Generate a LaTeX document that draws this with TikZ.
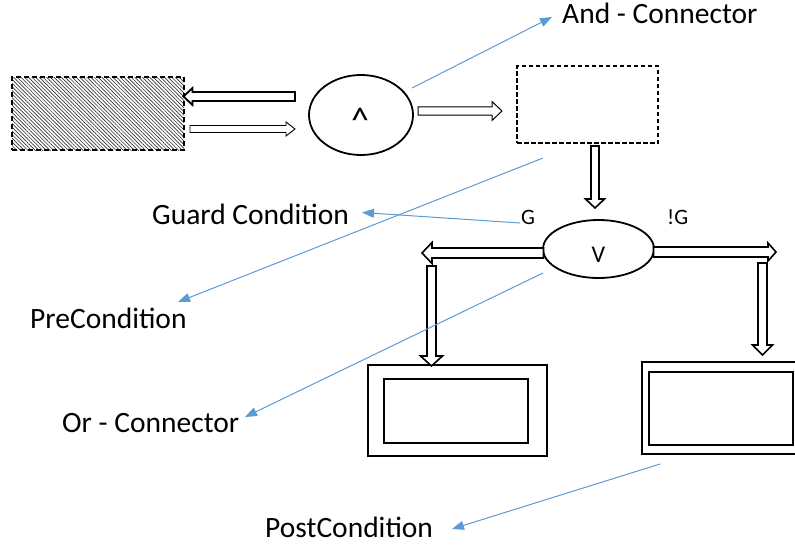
\documentclass[tikz,border=0pt]{standalone}
\usepackage{fontspec}
\setmainfont{Carlito}
\usetikzlibrary{calc,shapes.geometric,patterns.meta,arrows.meta}
\definecolor{callout}{HTML}{5B9BD5}

% Hollow block arrow from #2 to #3:
% #4 shaft half-width, #5 head half-width, #6 head length
\newcommand{\blockarrow}[6][]{%
  \coordinate (ba-neck) at ($(#3)!#6!(#2)$);
  \draw[blockarrow,#1]
    ($(#2)!#4!90:(#3)$) --
    ($(ba-neck)!#4!90:(#3)$) --
    ($(ba-neck)!#5!90:(#3)$) --
    (#3) --
    ($(ba-neck)!#5!-90:(#3)$) --
    ($(ba-neck)!#4!-90:(#3)$) --
    ($(#2)!#4!-90:(#3)$) -- cycle;
}

\begin{document}
\begin{tikzpicture}[x=1pt,y=-1pt,
  blockarrow/.style={draw=black, fill=white, line join=miter, line width=1.6pt},
  thinblock/.style={line width=0.9pt},
  callline/.style={draw=callout, line width=1pt, -{Triangle[length=12pt,width=9pt]}},
  labeltext/.style={font=\fontsize{29.5}{34}\selectfont, inner sep=0pt, anchor=base west},
  smalltext/.style={font=\fontsize{22}{26}\selectfont, inner sep=0pt, anchor=base west},
  connector/.style={ellipse, draw, line width=1.8pt, inner sep=0pt},
  framebox/.style={draw, line width=1.8pt, inner sep=0pt},
]
\useasboundingbox (0,0) rectangle (795,549);

% hatched source state
\node[draw, dashed, line width=1.6pt, dash pattern=on 5pt off 3pt,
      pattern={Lines[angle=-45,distance=2.6pt,line width=0.65pt]}, pattern color=black!80,
      minimum width=172pt, minimum height=73pt, inner sep=0pt] (src) at (98,113.5) {};

% and-connector
\node[connector, minimum width=104pt, minimum height=80pt] (andc) at (361,115) {};
\node[font=\fontsize{36}{40}\selectfont, inner sep=0pt, anchor=base] (andsym) at (360,132) {\textasciicircum};

% precondition (dashed) box
\node[draw, line width=1.7pt, dash pattern=on 4.5pt off 2.5pt,
      minimum width=141pt, minimum height=77pt, inner sep=0pt] (prebox) at (587.5,104.5) {};

% or-connector
\node[connector, minimum width=111pt, minimum height=58pt] (orc) at (598.5,249) {};
\node[font=\fontsize{24}{28}\selectfont, inner sep=0pt, anchor=base] (orsym) at (598.5,262) {V};

% guard labels
\node[smalltext] (glbl) at (521,224) {G};
\node[smalltext] (nglbl) at (667,224) {!G};

% postcondition boxes
\node[framebox, minimum width=179pt, minimum height=91pt] (postl) at (457.5,410.5) {};
\node[framebox, minimum width=144pt, minimum height=64pt] (postli) at (456,411) {};
\node[framebox, minimum width=157pt, minimum height=92pt] (postr) at (720.5,408) {};
\node[framebox, minimum width=144pt, minimum height=73pt] (postri) at (721,408.5) {};

% block arrow end points
\coordinate (a1s) at (295,96.5);   \coordinate (a1e) at (183.5,96.5);
\coordinate (a2s) at (190,129);    \coordinate (a2e) at (295,129);
\coordinate (a3s) at (418,111);    \coordinate (a3e) at (502,111);
\coordinate (a4s) at (595,146);    \coordinate (a4e) at (595,208);
\coordinate (a5s) at (543.5,253);  \coordinate (a5e) at (422,253);
\coordinate (a6s) at (653.5,252);  \coordinate (a6e) at (776,252);
\coordinate (a7s) at (431.5,266);  \coordinate (a7e) at (431.5,366);
\coordinate (a8s) at (762.5,263);  \coordinate (a8e) at (762.5,355);

\blockarrow[line width=1.8pt]{a1s}{a1e}{4.5pt}{8.5pt}{9pt}
\blockarrow[thinblock]{a2s}{a2e}{3.5pt}{7pt}{9pt}
\blockarrow[line width=1pt]{a3s}{a3e}{4.2pt}{9.5pt}{10pt}
\blockarrow{a4s}{a4e}{4pt}{9.5pt}{9pt}
\blockarrow{a5s}{a5e}{5pt}{10.5pt}{10pt}
\blockarrow{a6s}{a6e}{5pt}{9pt}{8pt}
\blockarrow{a7s}{a7e}{4.5pt}{11pt}{10pt}
\blockarrow{a8s}{a8e}{4.5pt}{10pt}{10pt}

% annotation labels
\node[labeltext] (andlbl) at (562,23) {And - Connector};
\node[labeltext] (guardlbl) at (152,224) {Guard Condition};
\node[labeltext] (prelbl) at (30,328) {PreCondition};
\node[labeltext] (orlbl) at (62,432) {Or - Connector};
\node[labeltext] (postlbl) at (265,537) {PostCondition};

% annotation pointers
\coordinate (c1s) at (412,88);   \coordinate (c1e) at (552,17);
\coordinate (c2s) at (520,223);  \coordinate (c2e) at (362,212.5);
\coordinate (c3s) at (543,158);  \coordinate (c3e) at (178,302);
\coordinate (c4s) at (543,273);  \coordinate (c4e) at (245,417);
\coordinate (c5s) at (660,464);  \coordinate (c5e) at (452,529);
\draw[callline] (c1s) -- (c1e);
\draw[callline] (c2s) -- (c2e);
\draw[callline] (c3s) -- (c3e);
\draw[callline] (c4s) -- (c4e);
\draw[callline] (c5s) -- (c5e);
\end{tikzpicture}
\end{document}
